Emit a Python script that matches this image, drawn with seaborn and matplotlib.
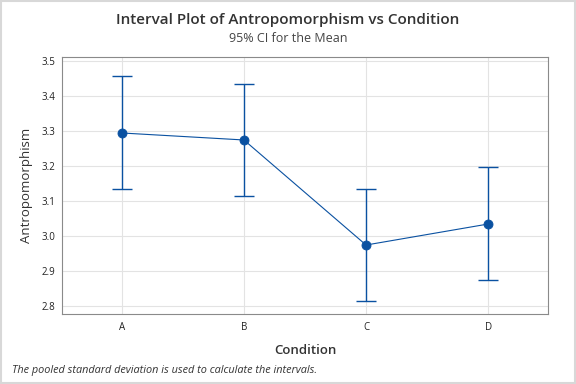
import pandas as pd
import matplotlib.pyplot as plt
import seaborn as sns
from matplotlib.patches import Rectangle

# Data
conditions = ['A', 'B', 'C', 'D']
means = [3.294, 3.274, 2.974, 3.034]
lower = [3.134, 3.114, 2.814, 2.874]
upper = [3.457, 3.434, 3.134, 3.197]

df = pd.DataFrame({'Condition': conditions, 'Antropomorphism': means})

blue = '#0a51a1'

sns.set_style('whitegrid')
plt.rcParams['font.family'] = ['Open Sans', 'DejaVu Sans']

fig = plt.figure(figsize=(5.76, 3.84), dpi=100)
ax = fig.add_axes([62/576, 1 - 314/384, 486/576, 257/384])

sns.pointplot(x='Condition', y='Antropomorphism', data=df, errorbar=None,
              color=blue, markers='o', markersize=6.5, linewidth=0.8, ax=ax)
ax.errorbar(range(len(conditions)), means,
            yerr=[[m - l for m, l in zip(means, lower)], [u - m for m, u in zip(means, upper)]],
            fmt='none', ecolor=blue, elinewidth=1.0, capsize=7.5, capthick=1.0, zorder=2)

ax.set_xlim(-0.49, 3.49)
ax.set_ylim(2.777, 3.511)
ax.set_yticks([2.8, 2.9, 3.0, 3.1, 3.2, 3.3, 3.4, 3.5])
ax.tick_params(axis='both', labelsize=7, length=3, color='#888888', pad=2, labelcolor='#222222')
ax.tick_params(axis='x', length=4)
ax.grid(True, color='#e3e3e3', linewidth=0.8)
for s in ax.spines.values():
    s.set_color('#8a8a8a')
    s.set_linewidth(0.8)

ax.set_xlabel('Condition', fontsize=9.5, color='#333333', fontweight='semibold', labelpad=8)
ax.set_ylabel('Antropomorphism', fontsize=9.5, color='#333333', labelpad=6)

fig.text(0.5, 1 - 20/384, 'Interval Plot of Antropomorphism vs Condition',
         ha='center', va='center', fontsize=11, fontweight='semibold', color='#333333')
fig.text(0.5, 1 - 38/384, '95% CI for the Mean', ha='center', va='center',
         fontsize=9, color='#444444')
fig.text(12/576, 1 - 371/384, 'The pooled standard deviation is used to calculate the intervals.',
         ha='left', va='center', fontsize=7.8, style='italic', color='#333333')

fig.patches.append(Rectangle((0.002, 0.002), 0.996, 0.996, transform=fig.transFigure,
                             fill=False, edgecolor='#d8d8d8', linewidth=1.5))

plt.savefig('out.png', dpi=100)
